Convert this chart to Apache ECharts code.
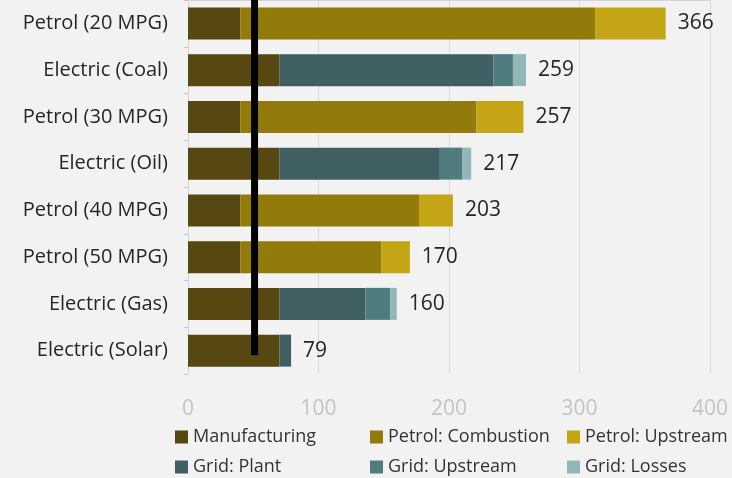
<!DOCTYPE html>
<html><head><meta charset="utf-8">
<script src="https://cdn.jsdelivr.net/npm/echarts@6/dist/echarts.min.js"></script>
<style>html,body{margin:0;padding:0;background:#f2f2f2;}#c{width:732px;height:478px;}</style>
</head><body><div id="c"></div>
<script>
const categories = ['Petrol (20 MPG)','Electric (Coal)','Petrol (30 MPG)','Electric (Oil)','Petrol (40 MPG)','Petrol (50 MPG)','Electric (Gas)','Electric (Solar)'];
const manufacturing     = [40, 70, 40, 70, 40, 40, 70, 70];
const petrolCombustion  = [272, 0, 181, 0, 137, 108, 0, 0];
const petrolUpstream    = [54, 0, 36, 0, 26, 22, 0, 0];
const gridPlant         = [0, 164, 0, 123, 0, 0, 66, 9];
const gridUpstream      = [0, 15, 0, 17, 0, 0, 19, 0];
const gridLosses        = [0, 10, 0, 7, 0, 0, 5, 0];
const totals            = [366, 259, 257, 217, 203, 170, 160, 79];
const xTicks            = [0, 100, 200, 300, 400];
const guideLineX        = 51;
const guideLineY        = [0, 7.6];

const colors = {
  'Manufacturing':'#574710',
  'Petrol: Combustion':'#927b0b',
  'Petrol: Upstream':'#c4a515',
  'Grid: Plant':'#405f62',
  'Grid: Upstream':'#4f7d7f',
  'Grid: Losses':'#93b6b9'
};
const seriesData = [
  ['Manufacturing', manufacturing],
  ['Petrol: Combustion', petrolCombustion],
  ['Petrol: Upstream', petrolUpstream],
  ['Grid: Plant', gridPlant],
  ['Grid: Upstream', gridUpstream],
  ['Grid: Losses', gridLosses]
];
const font = 'Open Sans';
const series = seriesData.map(([name, data]) => ({
  name, type:'bar', stack:'t', data, barWidth:32,
  itemStyle:{color:colors[name]}, yAxisIndex:0
}));
series.push({
  name:'Total', type:'bar', stack:'t', data: totals.map(()=>0), barWidth:32,
  itemStyle:{color:'transparent'},
  label:{show:true, position:'right', distance:12, formatter:p=>totals[p.dataIndex],
    color:'#262626', fontSize:21, fontFamily:font}
});
series.push({
  name:'Guide', type:'line', yAxisIndex:1, symbol:'none',
  data: guideLineY.map(y=>[guideLineX, y]),
  lineStyle:{color:'#000', width:7}, z:10, silent:true
});
const legendPos = [
  ['Manufacturing', 175, 429], ['Petrol: Combustion', 370, 429], ['Petrol: Upstream', 567, 429],
  ['Grid: Plant', 175, 459], ['Grid: Upstream', 370, 459], ['Grid: Losses', 567, 459]
];
const legends = legendPos.map(([name, l, t]) => ({
  left:l, top:t-1, padding:0, data:[name], itemWidth:13, itemHeight:13, icon:'rect',
  textStyle:{fontSize:18, color:'#333', fontFamily:font}
}));
const chart = echarts.init(document.getElementById('c'), null, {renderer:'canvas'});
chart.setOption({
  animation:false,
  backgroundColor:'#f2f2f2',
  grid:{left:188, right:22, top:-4, bottom:104, containLabel:false},
  xAxis:{type:'value', min:0, max:400, interval:100,
    axisLine:{show:true, lineStyle:{color:'#d4d4d4'}},
    axisTick:{show:false},
    splitLine:{show:true, lineStyle:{color:'#dadada'}},
    axisLabel:{color:'#c4c4c4', fontSize:21, fontFamily:font, margin:25,
      formatter:v=>xTicks.includes(v)?String(v):''}},
  yAxis:[{type:'category', data:categories, inverse:true,
    axisLine:{show:true, lineStyle:{color:'#d4d4d4'}},
    axisTick:{show:true, length:4, lineStyle:{color:'#c8c8c8'}},
    axisLabel:{color:'#262626', fontSize:20, fontFamily:font, margin:20}},
   {type:'value', min:0, max:8, inverse:true, show:false}],
  legend: legends,
  series
});
</script></body></html>
